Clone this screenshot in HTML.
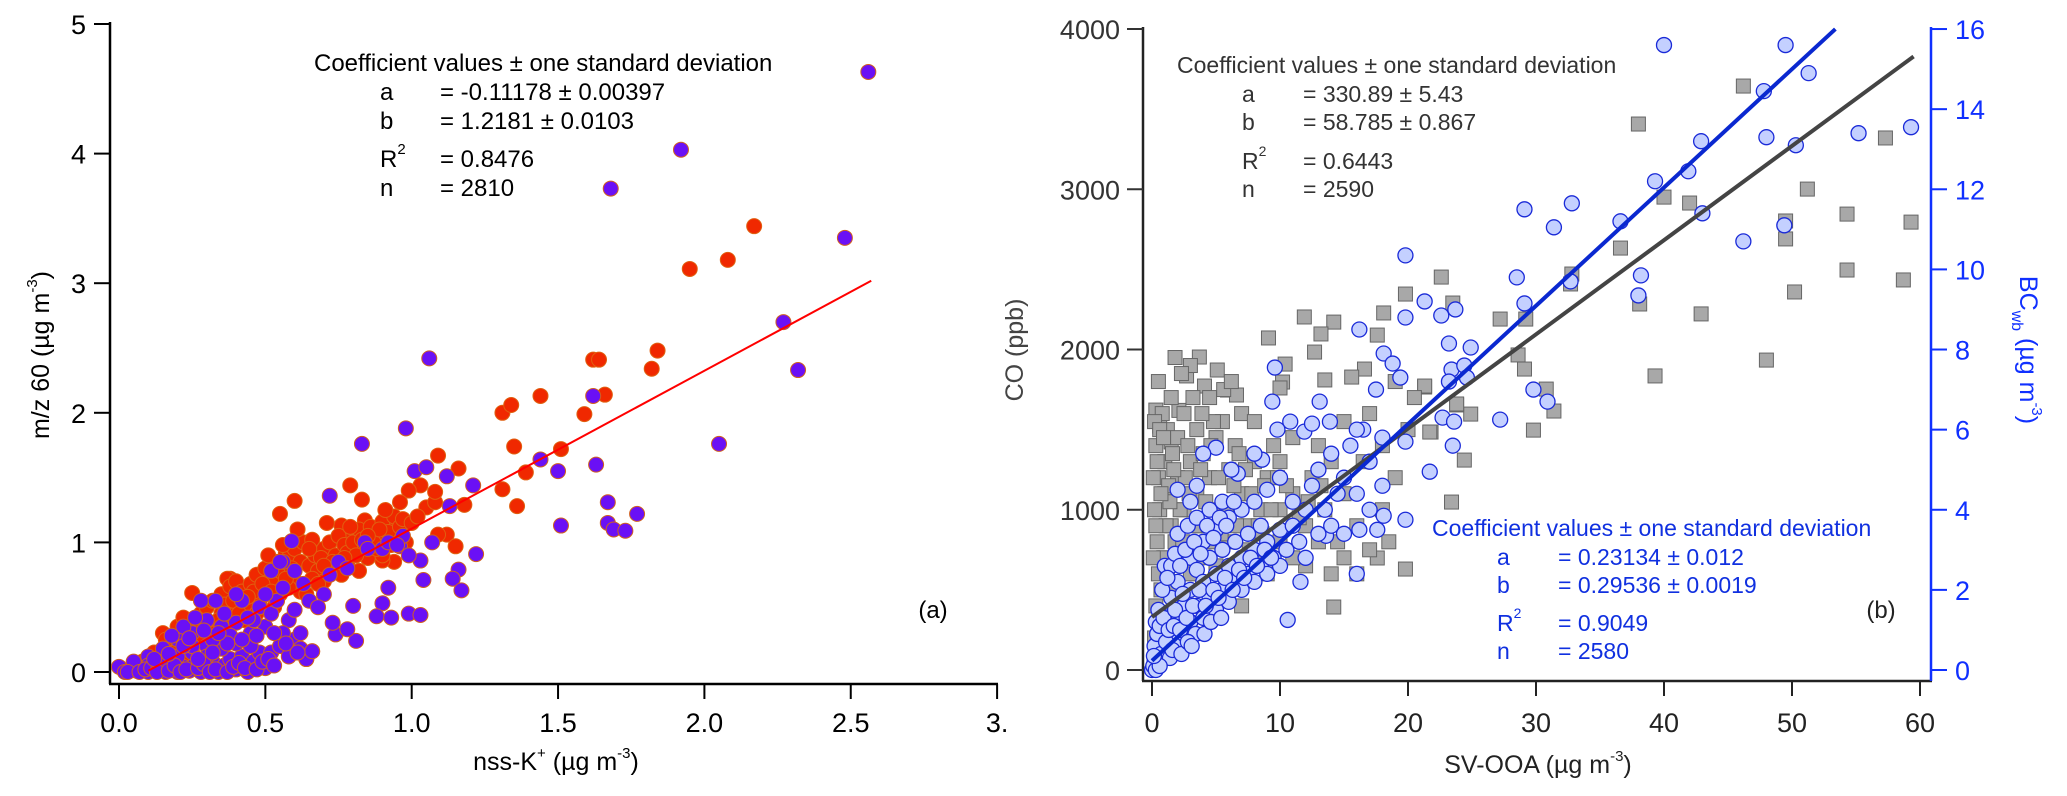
<!DOCTYPE html>
<html><head><meta charset="utf-8"><style>
html,body{margin:0;padding:0;background:#fff;}
svg{display:block;font-family:"Liberation Sans",Arial,sans-serif;}
</style></head><body>
<svg id="fig" width="2067" height="796" viewBox="0 0 2067 796" xmlns="http://www.w3.org/2000/svg">
<g id="panelA"></g>
<g id="panelB"></g>
</svg>
<script>
// ---------- Panel (a) data ----------
const aXTicks = [0.0, 0.5, 1.0, 1.5, 2.0, 2.5, 3.0];
const aXTickLabels = ["0.0","0.5","1.0","1.5","2.0","2.5","3."];
const aYTicks = [0,1,2,3,4,5];
const aRedPts = [[2.17,3.44],[1.95,3.11],[2.08,3.18],[1.84,2.48],[1.82,2.34],[1.62,2.41],[1.64,2.41],[1.66,2.14],[1.59,1.99],[1.44,2.13],[1.31,2.0],[1.34,2.06],[1.35,1.74],[1.51,1.72],[1.39,1.54],[1.31,1.41],[1.36,1.28],[1.09,1.67],[1.16,1.57],[1.18,1.29],[1.12,1.06],[1.15,0.97],[1.09,1.06],[1.05,1.27],[1.08,1.31],[1.03,1.44],[1.08,1.39],[0.99,1.40],[0.96,1.31],[0.92,1.18],[0.94,0.85],[0.9,0.86],[0.79,1.44],[0.83,1.33],[0.84,1.17],[0.76,1.13],[0.77,1.04],[0.6,1.32],[0.55,1.22],[0.25,0.61],[0.38,0.72],
[0.15,0.3],[0.2,0.35],[0.22,0.42],[0.28,0.45],[0.3,0.5],[0.32,0.55],[0.35,0.6],[0.37,0.72],[0.38,0.66],[0.4,0.7],[0.42,0.62],[0.45,0.68],[0.47,0.75],[0.5,0.8],[0.52,0.72],[0.54,0.85],[0.55,0.78],[0.57,0.92],[0.58,0.88],[0.6,0.95],[0.62,0.85],[0.63,1.0],[0.65,0.82],[0.67,0.9],[0.68,0.78],[0.7,0.95],[0.72,1.0],[0.74,0.9],[0.75,1.05],[0.77,0.98],[0.78,0.92],[0.8,1.0],[0.82,1.1],[0.84,0.95],[0.86,1.12],[0.88,1.05],[0.9,1.16],[0.92,1.08],[0.94,1.2],[0.96,1.12],[0.6,0.7],[0.62,0.62],[0.55,0.6],[0.5,0.6],[0.45,0.5],[0.4,0.5],[0.35,0.45],[0.3,0.38],[0.25,0.32],[0.2,0.25],[0.18,0.2],[0.12,0.15],[0.1,0.1],[0.08,0.08],[0.05,0.04],[0.15,0.1],[0.48,0.55],[0.58,0.65],[0.66,0.72],[0.72,0.8],[0.78,0.85],[0.85,0.88],[0.7,0.7],[0.64,0.6],[0.82,0.78],[0.9,0.9],[0.98,1.0],[0.88,0.95],[0.76,0.75],[0.68,0.68],[0.53,0.5],[0.43,0.4],[0.33,0.3],[0.23,0.22],[0.46,0.62],[0.36,0.52],[0.26,0.4],[0.16,0.25],[0.2,0.05],[0.3,0.1],
[0.3,0.28],[0.34,0.4],[0.39,0.55],[0.44,0.58],[0.49,0.68],[0.51,0.9],[0.56,0.98],[0.59,0.8],[0.61,1.1],[0.66,1.02],[0.69,0.88],[0.71,1.15],[0.73,0.85],[0.79,1.12],[0.81,0.9],[0.83,1.02],[0.87,1.0],[0.89,1.1],[0.91,1.25],[0.93,0.98],[0.97,1.18],[1.0,1.15],[1.02,1.2],[0.57,0.72],[0.47,0.45],[0.41,0.45],[0.27,0.25],[0.19,0.15],[0.13,0.08],[0.22,0.12],[0.7,0.82],[0.77,0.88],[0.85,1.05],[0.65,0.95],[0.52,0.62],[0.37,0.38]];
const aPurplePts = [[2.56,4.63],[2.48,3.35],[2.27,2.70],[2.32,2.33],[2.05,1.76],[1.92,4.03],[1.68,3.73],[1.06,2.42],[0.98,1.88],[0.83,1.76],[1.01,1.55],[1.05,1.58],[1.12,1.51],[1.21,1.44],[1.44,1.64],[1.50,1.55],[1.62,2.13],[1.63,1.60],[1.67,1.31],[1.67,1.15],[1.69,1.10],[1.73,1.09],[1.77,1.22],[1.51,1.13],[1.22,0.91],[1.13,1.28],[1.07,1.0],[0.96,0.97],[1.03,0.86],[0.99,0.9],[1.16,0.79],[1.14,0.72],[1.04,0.71],[1.17,0.63],[0.92,0.65],[0.9,0.53],[0.88,0.43],[0.93,0.42],[0.99,0.45],[1.03,0.44],[0.8,0.51],[0.81,0.24],[0.74,0.29],[0.73,0.38],[0.78,0.33],[0.72,1.36],[0.84,1.0],[0.97,1.05],[0.59,1.01],[0.56,0.85],[0.66,0.16],[0.64,0.10],
[0.0,0.04],[0.02,0.0],[0.04,0.02],[0.06,0.01],[0.08,0.03],[0.1,0.0],[0.12,0.02],[0.14,0.05],[0.16,0.0],[0.18,0.03],[0.2,0.0],[0.22,0.04],[0.24,0.01],[0.26,0.06],[0.28,0.0],[0.3,0.03],[0.32,0.08],[0.34,0.0],[0.36,0.05],[0.38,0.1],[0.4,0.02],[0.42,0.12],[0.44,0.0],[0.46,0.08],[0.48,0.15],[0.5,0.03],[0.52,0.15],[0.55,0.2],[0.58,0.12],[0.6,0.25],[0.62,0.18],[0.64,0.1],[0.66,0.16],[0.1,0.12],[0.15,0.18],[0.2,0.25],[0.25,0.3],[0.3,0.4],[0.28,0.55],[0.33,0.55],[0.35,0.35],[0.4,0.38],[0.42,0.55],[0.45,0.3],[0.48,0.5],[0.5,0.35],[0.52,0.45],[0.54,0.55],[0.5,0.6],[0.52,0.78],[0.56,0.65],[0.58,0.4],[0.6,0.48],[0.62,0.3],[0.55,0.85],[0.6,0.78],[0.63,0.68],[0.65,0.55],[0.7,0.6],[0.68,0.5],[0.72,0.75],[0.75,0.85],[0.78,0.8],[0.85,0.95],[0.9,0.95],[0.92,1.0],[0.95,0.98],[0.25,0.15],[0.3,0.2],[0.35,0.18],[0.4,0.22],[0.45,0.2],[0.22,0.35],[0.18,0.28],[0.38,0.28],[0.26,0.42],[0.4,0.6],[0.36,0.45],[0.32,0.25],[0.46,0.4],[0.56,0.3],[0.1,0.05],[0.05,0.08],[0.15,0.08],[0.2,0.12],[0.25,0.2],[0.3,0.12],
[0.03,0.0],[0.07,0.0],[0.09,0.02],[0.11,0.03],[0.13,0.0],[0.17,0.01],[0.19,0.05],[0.21,0.0],[0.23,0.02],[0.27,0.03],[0.29,0.06],[0.31,0.0],[0.33,0.02],[0.37,0.0],[0.39,0.04],[0.41,0.07],[0.43,0.03],[0.47,0.02],[0.49,0.08],[0.51,0.1],[0.53,0.05],[0.12,0.1],[0.17,0.14],[0.22,0.2],[0.27,0.1],[0.32,0.15],[0.37,0.22],[0.42,0.25],[0.47,0.28],[0.53,0.3],[0.57,0.22],[0.61,0.15],[0.34,0.3],[0.44,0.42],[0.29,0.32],[0.24,0.26]];
const aFitCoef = [-0.11178, 1.2181];
const aFitRange = [0.1, 2.57];

// ---------- Panel (b) data ----------
const bXTicks = [0,10,20,30,40,50,60];
const bCOTicks = [0,1000,2000,3000,4000];
const bBCTicks = [0,2,4,6,8,10,12,14,16];
const bCOPts = [[46.2,3644],[38.0,3407],[40.0,2951],[42.0,2914],[51.2,3001],[57.3,3320],[54.3,2845],[59.3,2795],[49.5,2802],[49.5,2690],[36.6,2633],[54.3,2496],[58.7,2434],[50.2,2359],[42.9,2222],[38.1,2284],[48.0,1934],[39.3,1835],[32.8,2471],[32.7,2409],[27.2,2190],[29.2,2190],[28.6,1966],[29.1,1878],[30.8,1753],[31.4,1616],[29.8,1497],[22.6,2452],[23.5,2290],[19.8,2346],[21.3,1766],[23.8,1654],[24.9,1597],[21.8,1485],[24.4,1310],[23.4,1048],[19.8,630],
[9.1,2072],[11.9,2203],[14.2,2171],[13.2,2097],[12.7,1984],[3.7,1953],[2.7,1835],[5.1,1872],[10.4,1909],[4.1,1772],[5.9,1747],[6.6,1716],[10.2,1797],[10.0,1760],[18.1,2228],[17.6,2090],[16.6,1878],[15.6,1828],[13.5,1810],[21.3,1772],[21.7,1485],[23.8,1660],[17.6,699],[14.2,393],[0.3,1622],[2.1,1620],[0.6,1522],[1.5,1423],
[0.3,400],[0.5,600],[0.4,800],[0.6,1000],[0.5,1200],[0.3,1400],[0.8,1600],[1,1300],[1.2,1500],[1,1100],[1.5,900],[1.5,1700],[2,1450],[2,1200],[2.5,1000],[2.5,1600],[3,1300],[3,1900],[3.5,1100],[3.5,1500],[4,900],[4,1350],[4.5,1700],[4.5,1200],[5,1000],[5,1450],[5.5,1550],[6,1250],[6,800],[6.5,1400],[7,1100],[7,1600],[7.5,900],[8,1300],[8,1550],[8.5,1000],[9,1200],[9.5,1400],[10,1000],[10,1300],[11,1100],[11,1450],[12,900],[12.5,1200],[13,1400],[13.5,1000],[14,1300],[14.5,800],[15,1100],[15,1550],[16,900],[16.5,1300],[17,1600],[18,1000],[18,1400],[19,1200],[20,1500],[1,700],[2,700],[3,750],[1.5,500],[0.8,300],[2.5,400],[0.2,200],[0.2,1000],[0.2,1550],[3,600],[5,650],[6,500],[8,700],[10,800],[12,650],[4,500],[7,400],[9,600],[11,700],[13,800],[15,700],[14,600],[0.5,1800],[1.8,1950],[2.3,1850],[3.2,1700],[5.6,1750],[6.2,1800],[4.8,1550],[16,600],[17,750],[18.5,800],[19,1800],[20.5,1700],
[0.5,300],[0.7,500],[0.9,700],[1.1,900],[1.3,1150],[1.6,1350],[0.4,1300],[0.6,1500],[1.8,800],[2.2,1000],[2.6,1200],[2.8,1400],[3.3,900],[3.8,1250],[4.2,1050],[4.6,1400],[5.2,1200],[5.8,1000],[6.4,1150],[6.8,1350],[7.3,1250],[7.8,1100],[8.3,900],[8.8,1150],[9.3,1000],[9.8,1200],[10.5,1150],[11.5,950],[12.2,1050],[13.2,1150],[1.4,1050],[1.2,600],[2.4,800],[3.6,700],[4.4,800],[5.4,850],[6.6,900],[7.6,750],[8.6,850],[0.9,1450],[1.7,1250],[2.9,1100],[3.9,1600],[0.1,700],[0.1,1200],[0.3,900],[0.7,1100]];
const bBCPts = [[40.0,15.6],[49.5,15.6],[51.3,14.9],[47.8,14.45],[42.9,13.2],[41.9,12.45],[39.3,12.2],[48.0,13.3],[50.3,13.1],[55.2,13.4],[59.3,13.55],[43.0,11.4],[36.6,11.2],[32.8,11.65],[29.1,11.5],[31.4,11.05],[46.2,10.7],[49.4,11.1],[38.2,9.85],[38.0,9.35],[32.7,9.7],[28.5,9.8],[29.1,9.15],[19.8,10.35],[21.3,9.2],[19.8,8.8],[22.6,8.85],[23.7,9.0],[23.2,8.15],[24.9,8.05],[23.4,7.5],[24.4,7.6],[24.6,7.3],[23.2,7.2],[29.8,7.0],[30.9,6.7],[27.2,6.25],[22.7,6.3],[23.6,6.2],[23.5,5.6],[19.8,5.7],[21.7,4.95],[19.8,3.75],
[16.2,8.5],[18.1,7.9],[18.8,7.65],[19.4,7.3],[17.5,7.0],[9.6,7.55],[9.4,6.7],[10.8,6.2],[13.1,6.7],[13.9,6.2],[11.9,5.95],[12.5,6.15],[16.5,6.0],[5.0,5.55],[8.6,5.25],[6.7,4.9],[3.5,4.6],[16.2,3.5],[18.1,3.85],[17.6,3.5],[16.0,2.4],[13.6,3.35],[11.6,2.2],[10.6,1.25],
[0,0],[0.2,0.2],[0.3,0.5],[0.5,0.3],[0.5,0.8],[0.8,0.6],[1,1],[1,0.4],[1.2,1.4],[1.5,0.8],[1.5,1.8],[2,1.2],[2,0.6],[2,2.2],[2.5,1.6],[2.5,0.9],[3,2],[3,1.2],[3,2.8],[3.5,1.6],[3.5,2.5],[4,2.2],[4,1.3],[4,3.2],[4.5,1.8],[4.5,2.8],[5,2.4],[5,1.5],[5,3.5],[5.5,2],[5.5,3],[6,2.6],[6,1.7],[6,3.8],[6.5,2.2],[6.5,3.2],[7,2.8],[7,2],[7,4],[7.5,2.4],[7.5,3.4],[8,3],[8,2.2],[8,4.2],[8.5,2.6],[8.5,3.6],[9,3.2],[9,2.4],[9,4.5],[9.5,2.8],[10,3.5],[10,2.6],[10,4.8],[10.5,3],[11,3.6],[11,4.2],[11.5,3.2],[12,4],[12,2.8],[12.5,4.6],[13,3.4],[13,5],[13.5,4],[14,3.6],[14,5.4],[14.5,4.4],[15,4.8],[15,3.4],[15.5,5.6],[16,4.4],[16,6],[17,5.2],[17,4],[18,5.8],[18,4.6],[1,2.6],[2,3.4],[3,4.2],[0.5,1.5],[1.5,2.6],[2.8,3.6],[0.3,1.2],[4.5,4],[3.5,3.8],[5.5,4.2],[6.2,5],[8,5.4],[9.8,6],[4,5.4],[2,4.5],
[0.1,0.1],[0.2,0.6],[0.4,0.9],[0.6,1.1],[0.7,0.4],[0.9,1.3],[1.1,0.7],[1.3,1.0],[1.4,0.3],[1.7,1.1],[1.8,1.5],[2.2,1.0],[2.4,1.9],[2.7,1.3],[3.2,1.6],[3.4,0.9],[3.7,2.0],[4.2,1.6],[4.8,2.0],[5.2,1.8],[5.7,2.3],[6.3,2.0],[6.8,2.5],[7.2,2.3],[7.7,2.8],[8.2,2.6],[8.8,3.0],[9.3,2.8],[0.8,2.0],[1.2,2.3],[1.8,2.9],[2.2,2.6],[2.6,3.0],[3.3,3.2],[3.8,2.9],[4.3,3.6],[4.8,3.3],[5.3,3.8],[5.8,3.6],[6.4,4.2],[0.3,0],[0.6,0.1],[0.15,0.35],[1.6,0.5],[2.3,0.4],[2.8,0.7],[3.1,0.6],[4.1,0.9],[4.6,1.2],[5.4,1.3]];
const bCOFit = [330.89, 58.785];
const bBCFit = [0.23134, 0.29536];

// ---------- helpers ----------
const NS = "http://www.w3.org/2000/svg";
function mk(parent, tag, attrs) {
  const e = document.createElementNS(NS, tag);
  for (const k in attrs) e.setAttribute(k, attrs[k]);
  parent.appendChild(e);
  return e;
}
function txt(parent, x, y, s, size, color, anchor) {
  const t = mk(parent, "text", {x: x, y: y, "font-size": size, fill: color, "text-anchor": anchor || "start"});
  t.textContent = s;
  return t;
}

// ---------- Panel (a) ----------
const A = document.getElementById("panelA");
const xA = v => 119 + v * 292.7;
const yA = v => 672 - v * 129.6;

let ln = mk(A, "line", {x1:110, y1:22, x2:110, y2:684, stroke:"#000", "stroke-width":2.5});


ln = mk(A, "line", {x1:109, y1:684, x2:998, y2:684, stroke:"#000", "stroke-width":2.5});



aYTicks.forEach(v => {
  const t = mk(A, "line", {x1:94, y1:yA(v), x2:110, y2:yA(v), stroke:"#000", "stroke-width":2});
  
  
  const l = txt(A, 86, yA(v) + 10, String(v), 27, "#000", "end");
  
  
});
aXTicks.forEach((v, i) => {
  const t = mk(A, "line", {x1:xA(v), y1:684, x2:xA(v), y2:699, stroke:"#000", "stroke-width":2});
  
  
  const l = txt(A, xA(v), 732, aXTickLabels[i], 27, "#000", "middle");
  
  
});

aRedPts.forEach(p => {
  const c = mk(A, "circle", {cx:xA(p[0]), cy:yA(p[1]), r:7.5, fill:"#f02800", stroke:"#e06010", "stroke-width":1});
  
  
});
aPurplePts.forEach(p => {
  const c = mk(A, "circle", {cx:xA(p[0]), cy:yA(p[1]), r:7.5, fill:"#6a10f5", stroke:"#d06020", "stroke-width":1});
  
  
});
const aFit = mk(A, "line", {x1:xA(aFitRange[0]), y1:yA(aFitCoef[0]+aFitCoef[1]*aFitRange[0]), x2:xA(aFitRange[1]), y2:yA(aFitCoef[0]+aFitCoef[1]*aFitRange[1]), stroke:"#f00", "stroke-width":2});



// text block (a)
const aText = mk(A, "g", {});


txt(aText, 314, 71, "Coefficient values ± one standard deviation", 24, "#000");
txt(aText, 380, 100, "a", 24, "#000"); txt(aText, 440, 100, "= -0.11178 ± 0.00397", 24, "#000");
txt(aText, 380, 129, "b", 24, "#000"); txt(aText, 440, 129, "= 1.2181 ± 0.0103", 24, "#000");
let r2 = txt(aText, 380, 167, "R", 24, "#000"); let sup = mk(r2, "tspan", {dy:-13, "font-size":15}); sup.textContent = "2";
txt(aText, 440, 167, "= 0.8476", 24, "#000");
txt(aText, 380, 196, "n", 24, "#000"); txt(aText, 440, 196, "= 2810", 24, "#000");
const aLbl = txt(A, 933, 618, "(a)", 24, "#000", "middle");



// axis titles (a)
const aXT = mk(A, "text", {x:556, y:770, "font-size":25, fill:"#000", "text-anchor":"middle"});


(function(){
  let s = mk(aXT,"tspan",{}); s.textContent = "nss-K";
  s = mk(aXT,"tspan",{dy:-12,"font-size":15}); s.textContent = "+";
  s = mk(aXT,"tspan",{dy:12}); s.textContent = " (µg m";
  s = mk(aXT,"tspan",{dy:-12,"font-size":15}); s.textContent = "-3";
  s = mk(aXT,"tspan",{dy:12}); s.textContent = ")";
})();
const aYT = mk(A, "text", {x:0, y:0, "font-size":25, fill:"#000", "text-anchor":"middle", transform:"translate(49,355) rotate(-90)"});


(function(){
  let s = mk(aYT,"tspan",{}); s.textContent = "m/z 60 (µg m";
  s = mk(aYT,"tspan",{dy:-12,"font-size":15}); s.textContent = "-3";
  s = mk(aYT,"tspan",{dy:12}); s.textContent = ")";
})();

// ---------- Panel (b) ----------
const B = document.getElementById("panelB");
const xB = v => 1152 + v * 12.8;
const yCO = v => 670 - v * 0.16025;
const yBC = v => 670 - v * 40.06;

ln = mk(B, "line", {x1:1143, y1:27, x2:1143, y2:681, stroke:"#222", "stroke-width":2.5});


ln = mk(B, "line", {x1:1142, y1:681, x2:1932, y2:681, stroke:"#222", "stroke-width":2.5});


ln = mk(B, "line", {x1:1931, y1:27, x2:1931, y2:681, stroke:"#1030ff", "stroke-width":2.5});



bCOTicks.forEach(v => {
  const t = mk(B, "line", {x1:1127, y1:yCO(v), x2:1143, y2:yCO(v), stroke:"#333", "stroke-width":2});
  
  
  const l = txt(B, 1120, yCO(v) + 10, String(v), 27, "#333", "end");
  
  
});
bBCTicks.forEach(v => {
  const t = mk(B, "line", {x1:1931, y1:yBC(v), x2:1947, y2:yBC(v), stroke:"#1030ff", "stroke-width":2});
  
  
  const l = txt(B, 1955, yBC(v) + 10, String(v), 27, "#1030ff", "start");
  
  
});
bXTicks.forEach(v => {
  const t = mk(B, "line", {x1:xB(v), y1:681, x2:xB(v), y2:696, stroke:"#222", "stroke-width":2});
  
  
  const l = txt(B, xB(v), 732, String(v), 27, "#222", "middle");
  
  
});

bCOPts.forEach(p => {
  const s = mk(B, "rect", {x:xB(p[0])-7, y:yCO(p[1])-7, width:14, height:14, fill:"#a8a8a8", stroke:"#666", "stroke-width":1});
  
  
});
bBCPts.forEach(p => {
  const c = mk(B, "circle", {cx:xB(p[0]), cy:yBC(p[1]), r:7.5, fill:"#c4d0ff", stroke:"#1a2ad8", "stroke-width":1.3});
  
  
});
const coFit = mk(B, "line", {x1:xB(0), y1:yCO(bCOFit[0]), x2:xB(59.5), y2:yCO(bCOFit[0]+bCOFit[1]*59.5), stroke:"#444", "stroke-width":4});


const bcEnd = (16 - bBCFit[0]) / bBCFit[1];
const bcFit = mk(B, "line", {x1:xB(0), y1:yBC(bBCFit[0]), x2:xB(bcEnd), y2:yBC(16), stroke:"#0a28d0", "stroke-width":4});



// text blocks (b)
const bText1 = mk(B, "g", {});


txt(bText1, 1177, 73, "Coefficient values ± one standard deviation", 23, "#333");
txt(bText1, 1242, 102, "a", 23, "#333"); txt(bText1, 1303, 102, "= 330.89 ± 5.43", 23, "#333");
txt(bText1, 1242, 130, "b", 23, "#333"); txt(bText1, 1303, 130, "= 58.785 ± 0.867", 23, "#333");
r2 = txt(bText1, 1242, 169, "R", 23, "#333"); sup = mk(r2, "tspan", {dy:-13, "font-size":14}); sup.textContent = "2";
txt(bText1, 1303, 169, "= 0.6443", 23, "#333");
txt(bText1, 1242, 197, "n", 23, "#333"); txt(bText1, 1303, 197, "= 2590", 23, "#333");

const bText2 = mk(B, "g", {});


const blue = "#1030e0";
txt(bText2, 1432, 536, "Coefficient values ± one standard deviation", 23, blue);
txt(bText2, 1497, 565, "a", 23, blue); txt(bText2, 1558, 565, "= 0.23134 ± 0.012", 23, blue);
txt(bText2, 1497, 593, "b", 23, blue); txt(bText2, 1558, 593, "= 0.29536 ± 0.0019", 23, blue);
r2 = txt(bText2, 1497, 631, "R", 23, blue); sup = mk(r2, "tspan", {dy:-13, "font-size":14}); sup.textContent = "2";
txt(bText2, 1558, 631, "= 0.9049", 23, blue);
txt(bText2, 1497, 659, "n", 23, blue); txt(bText2, 1558, 659, "= 2580", 23, blue);
const bLbl = txt(B, 1881, 618, "(b)", 24, "#222", "middle");



const bXT = mk(B, "text", {x:1538, y:773, "font-size":25, fill:"#222", "text-anchor":"middle"});


(function(){
  let s = mk(bXT,"tspan",{}); s.textContent = "SV-OOA (µg m";
  s = mk(bXT,"tspan",{dy:-12,"font-size":15}); s.textContent = "-3";
  s = mk(bXT,"tspan",{dy:12}); s.textContent = ")";
})();
const bYT = mk(B, "text", {x:0, y:0, "font-size":25, fill:"#444", "text-anchor":"middle", transform:"translate(1023,350) rotate(-90)"});


bYT.textContent = "CO (ppb)";
const bYT2 = mk(B, "text", {x:0, y:0, "font-size":25, fill:"#1030ff", "text-anchor":"middle", transform:"translate(2020,350) rotate(90)"});


(function(){
  let s = mk(bYT2,"tspan",{}); s.textContent = "BC";
  s = mk(bYT2,"tspan",{dy:8,"font-size":16}); s.textContent = "wb";
  s = mk(bYT2,"tspan",{dy:-8}); s.textContent = " (µg m";
  s = mk(bYT2,"tspan",{dy:-12,"font-size":15}); s.textContent = "-3";
  s = mk(bYT2,"tspan",{dy:12}); s.textContent = ")";
})();
</script>
</body></html>
